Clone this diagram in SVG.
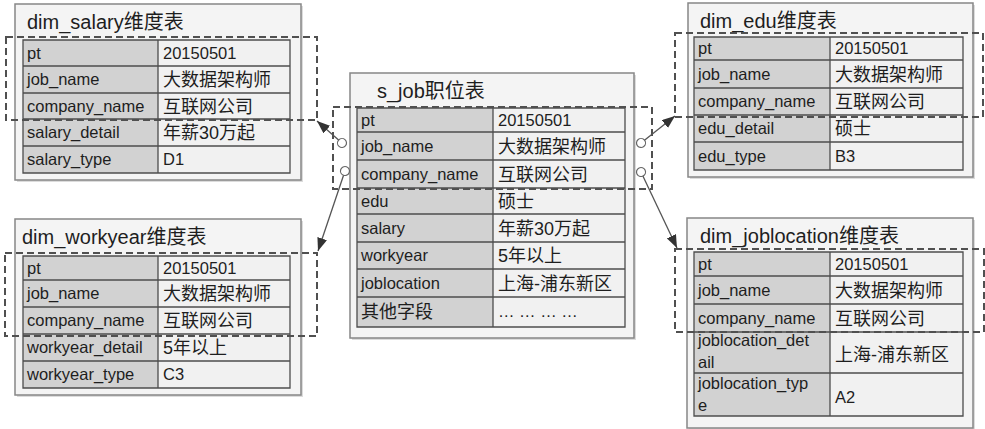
<svg xmlns="http://www.w3.org/2000/svg" width="985" height="429" viewBox="0 0 985 429">
<defs>
<style>
.bg{fill:#ffffff}
.shadow{fill:#dcdcdc}
.outer{fill:#f4f4f4;stroke:#878787;stroke-width:1.5}
.lab{fill:#d2d2d2}
.val{fill:#f1f1f1}
.grid{stroke:#4d4d4d;stroke-width:1.3;fill:none}
.dash{fill:none;stroke:#505050;stroke-width:2;stroke-dasharray:7 4}
.conn{fill:none;stroke:#555555;stroke-width:1.3}
text{font-family:"Liberation Sans","Noto Sans CJK SC",sans-serif;fill:#1e1e1e}
.t{font-size:16.5px}
.c{font-size:18px}
.h{font-size:20px}
</style>
<marker id="arrow" viewBox="0 0 13 10" refX="13" refY="5" markerWidth="13" markerHeight="10" markerUnits="userSpaceOnUse" orient="auto">
<path d="M0,0 L13,5 L0,10 z" fill="#333333"/>
</marker>
<marker id="ring" viewBox="0 0 12 12" refX="6" refY="6" markerWidth="12" markerHeight="12" markerUnits="userSpaceOnUse" orient="auto">
<circle cx="6" cy="6" r="4.5" fill="#ffffff" stroke="#666666" stroke-width="1.2"/>
</marker>
</defs>
<rect class="bg" x="0" y="0" width="985" height="429"/>

<g id="dim_salary">
<rect class="shadow" x="17" y="6" width="286" height="176"/>
<rect class="outer" x="15" y="4" width="286" height="176"/>
<text class="h" x="27" y="29">dim_salary维度表</text>
<rect class="lab" x="23" y="40" width="135" height="133"/>
<rect class="val" x="158" y="40" width="132" height="133"/>
<path class="grid" d="M23,40 H290 V173 H23 Z M158,40 V173 M23,66 H290 M23,93 H290 M23,119 H290 M23,146 H290"/>
<text class="t" x="27" y="58.5">pt</text><text class="t" x="163" y="58.5">20150501</text>
<text class="t" x="27" y="85">job_name</text><text class="c" x="163" y="86">大数据架构师</text>
<text class="t" x="27" y="111.5">company_name</text><text class="c" x="163" y="112.5">互联网公司</text>
<text class="t" x="27" y="138">salary_detail</text><text class="c" x="163" y="139">年薪30万起</text>
<text class="t" x="27" y="165">salary_type</text><text class="t" x="163" y="165">D1</text>
<rect class="dash" x="6" y="37" width="311" height="83"/>
</g>

<g id="dim_workyear">
<rect class="shadow" x="17" y="221" width="286" height="176"/>
<rect class="outer" x="15" y="219" width="286" height="176"/>
<text class="h" x="22" y="244">dim_workyear维度表</text>
<rect class="lab" x="23" y="256" width="135" height="132"/>
<rect class="val" x="158" y="256" width="132" height="132"/>
<path class="grid" d="M23,256 H290 V388 H23 Z M158,256 V388 M23,280 H290 M23,307 H290 M23,334 H290 M23,361 H290"/>
<text class="t" x="27" y="273.5">pt</text><text class="t" x="163" y="273.5">20150501</text>
<text class="t" x="27" y="299">job_name</text><text class="c" x="163" y="300">大数据架构师</text>
<text class="t" x="27" y="326">company_name</text><text class="c" x="163" y="327">互联网公司</text>
<text class="t" x="27" y="353">workyear_detail</text><text class="c" x="163" y="354">5年以上</text>
<text class="t" x="27" y="380">workyear_type</text><text class="t" x="163" y="380">C3</text>
<rect class="dash" x="5" y="253" width="312" height="83"/>
</g>

<g id="s_job">
<rect class="shadow" x="352" y="75" width="284" height="265"/>
<rect class="outer" x="350" y="73" width="284" height="265"/>
<text class="h" x="377" y="98">s_job职位表</text>
<rect class="lab" x="357" y="108" width="136" height="219"/>
<rect class="val" x="493" y="108" width="132" height="219"/>
<path class="grid" d="M357,108 H625 V327 H357 Z M493,108 V327 M357,132 H625 M357,160 H625 M357,188 H625 M357,214 H625 M357,242 H625 M357,269 H625 M357,297 H625"/>
<text class="t" x="361" y="125.5">pt</text><text class="t" x="498" y="125.5">20150501</text>
<text class="t" x="361" y="151.5">job_name</text><text class="c" x="498" y="152.5">大数据架构师</text>
<text class="t" x="361" y="179.5">company_name</text><text class="c" x="498" y="180.5">互联网公司</text>
<text class="t" x="361" y="206.5">edu</text><text class="c" x="498" y="207.5">硕士</text>
<text class="t" x="361" y="233.5">salary</text><text class="c" x="498" y="234.5">年薪30万起</text>
<text class="t" x="361" y="261">workyear</text><text class="c" x="498" y="262">5年以上</text>
<text class="t" x="361" y="288.5">joblocation</text><text class="c" x="498" y="289.5">上海-浦东新区</text>
<text class="c" x="361" y="318">其他字段</text><text class="t" x="498" y="317">… … … …</text>
<rect class="dash" x="333" y="107" width="319" height="82"/>
</g>

<g id="dim_edu">
<rect class="shadow" x="690" y="5" width="285" height="174"/>
<rect class="outer" x="688" y="3" width="285" height="174"/>
<text class="h" x="700" y="28">dim_edu维度表</text>
<rect class="lab" x="694" y="37" width="136" height="133"/>
<rect class="val" x="830" y="37" width="133" height="133"/>
<path class="grid" d="M694,37 H963 V170 H694 Z M830,37 V170 M694,60 H963 M694,88 H963 M694,115 H963 M694,142 H963"/>
<text class="t" x="698" y="54">pt</text><text class="t" x="835" y="54">20150501</text>
<text class="t" x="698" y="79.5">job_name</text><text class="c" x="835" y="80.5">大数据架构师</text>
<text class="t" x="698" y="107">company_name</text><text class="c" x="835" y="108">互联网公司</text>
<text class="t" x="698" y="134">edu_detail</text><text class="c" x="835" y="135">硕士</text>
<text class="t" x="698" y="161.5">edu_type</text><text class="t" x="835" y="161.5">B3</text>
<rect class="dash" x="675" y="33" width="308" height="84"/>
</g>

<g id="dim_joblocation">
<rect class="shadow" x="689" y="220" width="286" height="210"/>
<rect class="outer" x="687" y="218" width="286" height="210"/>
<text class="h" x="700" y="243">dim_joblocation维度表</text>
<rect class="lab" x="694" y="252" width="136" height="164"/>
<rect class="val" x="830" y="252" width="133" height="164"/>
<path class="grid" d="M694,252 H963 V416 H694 Z M830,252 V416 M694,276 H963 M694,304 H963 M694,332 H963 M694,373 H963"/>
<text class="t" x="698" y="269.5">pt</text><text class="t" x="835" y="269.5">20150501</text>
<text class="t" x="698" y="295.5">job_name</text><text class="c" x="835" y="296.5">大数据架构师</text>
<text class="t" x="698" y="323.5">company_name</text><text class="c" x="835" y="324.5">互联网公司</text>
<text class="t" x="698" y="346">joblocation_det</text><text class="t" x="698" y="368">ail</text>
<text class="c" x="835" y="361">上海-浦东新区</text>
<text class="t" x="698" y="389">joblocation_typ</text><text class="t" x="698" y="411">e</text>
<text class="t" x="835" y="403">A2</text>
<rect class="dash" x="675" y="249" width="309" height="83"/>
</g>

<g id="connectors">
<path class="conn" d="M342,143 L317,121" marker-start="url(#ring)" marker-end="url(#arrow)"/>
<path class="conn" d="M345,171 L318,251" marker-start="url(#ring)" marker-end="url(#arrow)"/>
<path class="conn" d="M641,143 L675,116" marker-start="url(#ring)" marker-end="url(#arrow)"/>
<path class="conn" d="M641,172 L677,248" marker-start="url(#ring)" marker-end="url(#arrow)"/>
</g>
</svg>
